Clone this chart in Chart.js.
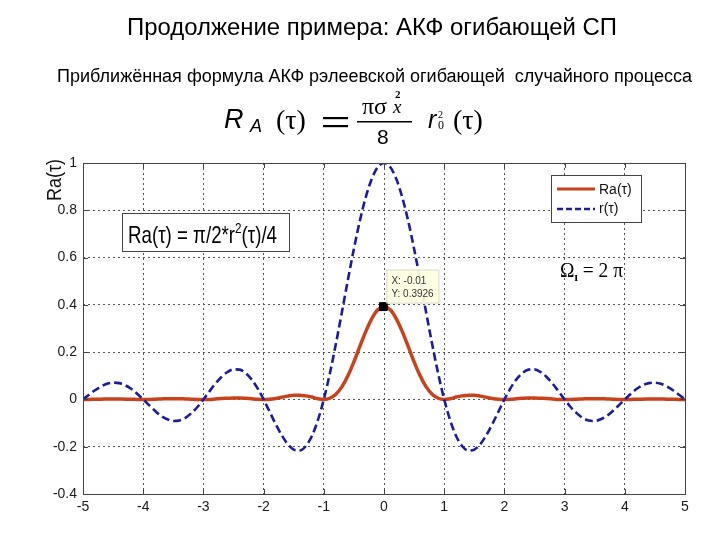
<!DOCTYPE html>
<html>
<head>
<meta charset="utf-8">
<title>АКФ огибающей СП</title>
<script src="https://cdn.jsdelivr.net/npm/chart.js@4.4.1/dist/chart.umd.min.js"></script>
<style>
    html, body { margin: 0; padding: 0; background: #fff; }
    .wrap { position: relative; width: 720px; height: 540px; }
</style>
</head>
<body>
<div class="wrap"><canvas id="chartAkf"></canvas></div>
<script>
/* ── Data ── */
const tau = [
    -5, -4.9, -4.8, -4.7, -4.6, -4.5, -4.4, -4.3, -4.2, -4.1,
    -4, -3.9, -3.8, -3.7, -3.6, -3.5, -3.4, -3.3, -3.2, -3.1,
    -3, -2.9, -2.8, -2.7, -2.6, -2.5, -2.4, -2.3, -2.2, -2.1,
    -2, -1.9, -1.8, -1.7, -1.6, -1.5, -1.4, -1.3, -1.2, -1.1,
    -1, -0.9, -0.8, -0.7, -0.6, -0.5, -0.4, -0.3, -0.2, -0.1,
    0, 0.1, 0.2, 0.3, 0.4, 0.5, 0.6, 0.7, 0.8, 0.9,
    1, 1.1, 1.2, 1.3, 1.4, 1.5, 1.6, 1.7, 1.8, 1.9,
    2, 2.1, 2.2, 2.3, 2.4, 2.5, 2.6, 2.7, 2.8, 2.9,
    3, 3.1, 3.2, 3.3, 3.4, 3.5, 3.6, 3.7, 3.8, 3.9,
    4, 4.1, 4.2, 4.3, 4.4, 4.5, 4.6, 4.7, 4.8, 4.9,
    5
];

// r(τ), dashed blue
const rTau = [
    0, 0.020, 0.039, 0.055, 0.066, 0.071, 0.069, 0.060, 0.045, 0.024,
    0, -0.025, -0.049, -0.070, -0.084, -0.091, -0.089, -0.078, -0.058, -0.032,
    0, 0.034, 0.067, 0.095, 0.116, 0.127, 0.126, 0.112, 0.085, 0.047,
    0, -0.052, -0.104, -0.151, -0.189, -0.212, -0.216, -0.198, -0.156, -0.089,
    0, 0.109, 0.234, 0.368, 0.505, 0.637, 0.757, 0.858, 0.935, 0.984,
    1, 0.984, 0.935, 0.858, 0.757, 0.637, 0.505, 0.368, 0.234, 0.109,
    0, -0.089, -0.156, -0.198, -0.216, -0.212, -0.189, -0.151, -0.104, -0.052,
    0, 0.047, 0.085, 0.112, 0.126, 0.127, 0.116, 0.095, 0.067, 0.034,
    0, -0.032, -0.058, -0.078, -0.089, -0.091, -0.084, -0.070, -0.049, -0.025,
    0, 0.024, 0.045, 0.060, 0.069, 0.071, 0.066, 0.055, 0.039, 0.020,
    0
];

// Ra(τ), solid red
const raTau = [
    0, 0.000, 0.001, 0.001, 0.002, 0.002, 0.002, 0.001, 0.001, 0.000,
    0, 0.000, 0.001, 0.002, 0.003, 0.003, 0.003, 0.002, 0.001, 0.000,
    0, 0.000, 0.002, 0.004, 0.005, 0.006, 0.006, 0.005, 0.003, 0.001,
    0, 0.001, 0.004, 0.009, 0.014, 0.018, 0.018, 0.015, 0.010, 0.003,
    0, 0.005, 0.022, 0.053, 0.100, 0.159, 0.225, 0.289, 0.343, 0.380,
    0.393, 0.380, 0.343, 0.289, 0.225, 0.159, 0.100, 0.053, 0.022, 0.005,
    0, 0.003, 0.010, 0.015, 0.018, 0.018, 0.014, 0.009, 0.004, 0.001,
    0, 0.001, 0.003, 0.005, 0.006, 0.006, 0.005, 0.004, 0.002, 0.000,
    0, 0.000, 0.001, 0.002, 0.003, 0.003, 0.003, 0.002, 0.001, 0.000,
    0, 0.000, 0.001, 0.001, 0.002, 0.002, 0.002, 0.001, 0.001, 0.000,
    0
];

// data tip on the Ra peak
const tipX = [-0.01];
const tipY = [0.3926];

const xTicks = [-5, -4, -3, -2, -1, 0, 1, 2, 3, 4, 5];
const yTicks = [-0.4, -0.2, 0, 0.2, 0.4, 0.6, 0.8, 1];
const seriesNames = ['Ra(τ)', 'r(τ)'];

/* ── Colours & fonts ── */
const RED = '#c8421c';
const BLUE = '#1c1c9c';
const SANS = '"Liberation Sans", Arial, sans-serif';
const SERIF = '"Liberation Serif", "DejaVu Serif", serif';

/* ── Text helpers ── */
// draw text squeezed/stretched to a given width (MATLAB figure fonts are narrower)
function fitText(ctx, text, x, y, width, font) {
    ctx.save();
    ctx.font = font;
    const w = ctx.measureText(text).width;
    ctx.translate(x, y);
    ctx.scale(width / w, 1);
    ctx.fillText(text, 0, 0);
    ctx.restore();
}

function drawRun(ctx, parts, x, y, width) {
    // parts: [text, font, dy]
    ctx.save();
    let total = 0;
    parts.forEach((p) => { ctx.font = p[1]; total += ctx.measureText(p[0]).width; });
    ctx.translate(x, y);
    ctx.scale(width / total, 1);
    let cx = 0;
    parts.forEach((p) => {
        ctx.font = p[1];
        ctx.fillText(p[0], cx, p[2] || 0);
        cx += ctx.measureText(p[0]).width;
    });
    ctx.restore();
}

/* ── Slide texts: title, subtitle, formula ── */
function drawHeader(ctx) {
    ctx.save();
    ctx.fillStyle = '#000';
    ctx.textBaseline = 'alphabetic';
    ctx.textAlign = 'left';
    fitText(ctx, 'Продолжение примера: АКФ огибающей СП', 127, 35, 490, '24px ' + SANS);
    fitText(ctx, 'Приближённая формула АКФ рэлеевской огибающей  случайного процесса', 57, 82, 635, '18px ' + SANS);

    // R_A(τ) = πσx²/8 · r0²(τ)
    ctx.font = 'italic 27px ' + SANS;
    ctx.fillText('R', 224, 128);
    ctx.font = 'italic 18px ' + SANS;
    ctx.fillText('A', 250, 132);
    ctx.font = '28px ' + SERIF;
    ctx.fillText('(τ)', 276, 129);
    ctx.fillRect(323, 117, 25, 2.2);
    ctx.fillRect(323, 125, 25, 2.2);
    ctx.font = '24px ' + SERIF;
    ctx.fillText('πσ', 362, 114);
    ctx.font = 'italic 19px ' + SERIF;
    ctx.fillText('x', 393, 113);
    ctx.font = 'bold 11px ' + SERIF;
    ctx.fillText('2', 395, 98);
    ctx.fillRect(357, 121, 55, 1.5);
    ctx.font = '21px ' + SANS;
    ctx.fillText('8', 377, 144);
    ctx.font = 'italic 25px ' + SANS;
    ctx.fillText('r', 428, 128);
    ctx.font = '10px ' + SERIF;
    ctx.fillText('2', 438, 118);
    ctx.font = '12px ' + SERIF;
    ctx.fillText('0', 438, 129);
    ctx.font = '28px ' + SERIF;
    ctx.fillText('(τ)', 453, 129);
    ctx.restore();
}

/* ── Plugin: axes box, in-plot texts, legend, data tip ── */
const decorPlugin = {
    id: 'decor',
    afterDraw(chart) {
        const ctx = chart.ctx;
        const a = chart.chartArea;
        const xs = chart.scales.x;
        const ys = chart.scales.y;

        drawHeader(ctx);

        // axes box with inward ticks
        ctx.save();
        ctx.strokeStyle = '#444';
        ctx.lineWidth = 1;
        ctx.strokeRect(a.left + 0.5, a.top + 0.5, a.right - a.left, a.bottom - a.top);
        ctx.beginPath();
        xTicks.forEach((v) => {
            const px = Math.round(xs.getPixelForValue(v)) + 0.5;
            ctx.moveTo(px, a.bottom); ctx.lineTo(px, a.bottom - 5);
            ctx.moveTo(px, a.top); ctx.lineTo(px, a.top + 5);
        });
        yTicks.forEach((v) => {
            const py = Math.round(ys.getPixelForValue(v)) + 0.5;
            ctx.moveTo(a.left, py); ctx.lineTo(a.left + 5, py);
            ctx.moveTo(a.right, py); ctx.lineTo(a.right - 5, py);
        });
        ctx.stroke();
        ctx.restore();

        // y axis label
        ctx.save();
        ctx.fillStyle = '#111';
        ctx.translate(61, 201);
        ctx.rotate(-Math.PI / 2);
        fitText(ctx, 'Ra(τ)', 0, 0, 42, '20px ' + SANS);
        ctx.restore();

        // formula annotation box
        ctx.save();
        ctx.fillStyle = '#fff';
        ctx.fillRect(122, 213, 167, 38);
        ctx.strokeStyle = '#444';
        ctx.strokeRect(122.5, 213.5, 167, 38);
        ctx.fillStyle = '#000';
        drawRun(ctx, [
            ['Ra(τ) = π/2*r', '24px ' + SANS, 0],
            ['2', '15px ' + SANS, -10],
            ['(τ)/4', '24px ' + SANS, 0]
        ], 128, 243, 149);
        ctx.restore();

        // legend
        ctx.save();
        ctx.fillStyle = '#fff';
        ctx.fillRect(551, 175, 90, 47);
        ctx.strokeStyle = '#444';
        ctx.strokeRect(551.5, 175.5, 90, 47);
        ctx.lineWidth = 3;
        ctx.strokeStyle = RED;
        ctx.beginPath(); ctx.moveTo(557, 189); ctx.lineTo(595, 189); ctx.stroke();
        ctx.lineWidth = 2.5;
        ctx.strokeStyle = BLUE;
        ctx.setLineDash([6, 3]);
        ctx.beginPath(); ctx.moveTo(557, 209); ctx.lineTo(595, 209); ctx.stroke();
        ctx.setLineDash([]);
        ctx.fillStyle = '#111';
        ctx.font = '14px ' + SANS;
        ctx.textBaseline = 'middle';
        ctx.fillText(seriesNames[0], 599, 190);
        ctx.fillText(seriesNames[1], 599, 209);
        ctx.restore();

        // Ω1 = 2π
        ctx.save();
        ctx.fillStyle = '#000';
        drawRun(ctx, [
            ['Ω', '21px ' + SERIF, 0],
            ['ı', 'bold 13px ' + SERIF, 4],
            [' = 2 π', '21px ' + SERIF, 0]
        ], 560, 277, 63);
        ctx.restore();

        // data tip box next to the marker
        const mx = xs.getPixelForValue(tipX[0]);
        const my = ys.getPixelForValue(tipY[0]);
        ctx.save();
        ctx.fillStyle = 'rgba(255,255,225,0.92)';
        ctx.fillRect(mx + 3, my - 37, 52, 33);
        ctx.strokeStyle = '#d8d8c8';
        ctx.strokeRect(mx + 3.5, my - 36.5, 52, 33);
        ctx.fillStyle = '#333';
        ctx.font = '10px ' + SANS;
        ctx.fillText('X: ' + tipX[0], mx + 8, my - 23);
        ctx.fillText('Y: ' + tipY[0], mx + 8, my - 10);
        ctx.restore();
    }
};

/* ── Chart ── */
function initChart() {
    const el = document.getElementById('chartAkf');
    const toPoints = (ys) => tau.map((t, i) => ({ x: t, y: ys[i] }));
    const tickFont = { family: SANS, size: 14 };

    new Chart(el, {
        type: 'line',
        data: {
            datasets: [
                {
                    label: seriesNames[0],
                    data: toPoints(raTau),
                    borderColor: RED,
                    borderWidth: 3.5,
                    pointRadius: 0,
                    cubicInterpolationMode: 'monotone',
                    order: 2,
                },
                {
                    label: seriesNames[1],
                    data: toPoints(rTau),
                    borderColor: BLUE,
                    borderWidth: 2.6,
                    borderDash: [8, 4],
                    pointRadius: 0,
                    cubicInterpolationMode: 'monotone',
                    order: 1,
                },
                {
                    label: 'tip',
                    type: 'scatter',
                    data: tipX.map((x, i) => ({ x: x, y: tipY[i] })),
                    pointStyle: 'rect',
                    pointRadius: 5.6,
                    backgroundColor: '#000',
                    borderColor: '#000',
                    order: 0,
                },
            ],
        },
        options: {
            responsive: true,
            maintainAspectRatio: false,
            animation: false,
            layout: { padding: { left: 0, top: 163, right: 35, bottom: 0 } },
            plugins: {
                legend: { display: false },
                tooltip: { enabled: false },
            },
            scales: {
                x: {
                    type: 'linear',
                    min: -5,
                    max: 5,
                    afterBuildTicks: (s) => { s.ticks = xTicks.map((v) => ({ value: v })); },
                    afterFit: (s) => { s.height = 46; },
                    ticks: { font: tickFont, color: '#1a1a1a', padding: 5, callback: (v) => String(v) },
                    grid: { color: '#555', lineWidth: 1, drawTicks: false },
                    border: { display: false, dash: [2, 3] },
                },
                y: {
                    type: 'linear',
                    min: -0.4,
                    max: 1,
                    afterBuildTicks: (s) => { s.ticks = yTicks.map((v) => ({ value: v })); },
                    afterFit: (s) => { s.width = 83; },
                    ticks: { font: tickFont, color: '#1a1a1a', padding: 6, callback: (v) => String(v) },
                    grid: { color: '#555', lineWidth: 1, drawTicks: false },
                    border: { display: false, dash: [2, 3] },
                },
            },
        },
        plugins: [decorPlugin],
    });
}

initChart();
</script>
</body>
</html>
